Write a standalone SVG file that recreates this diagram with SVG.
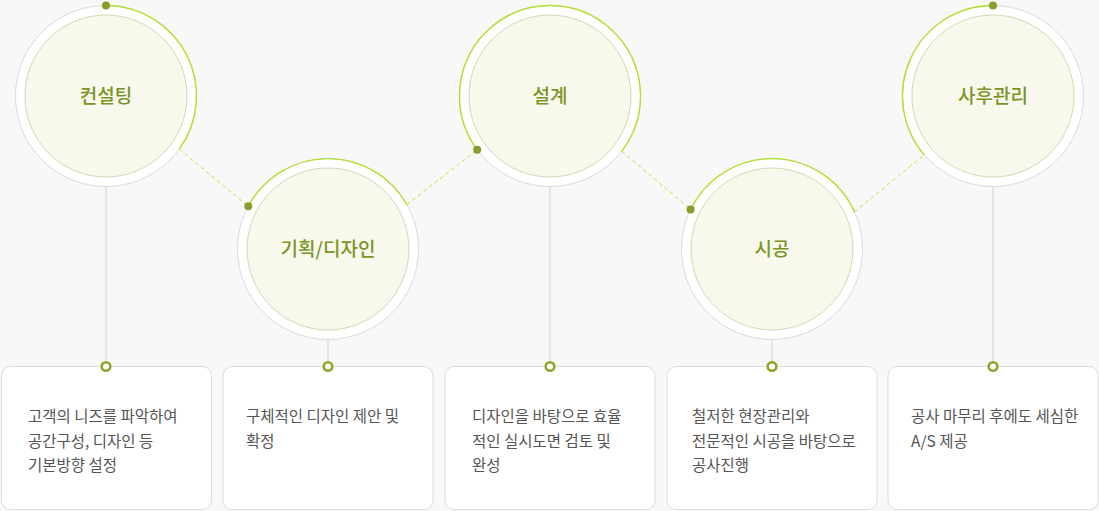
<svg xmlns="http://www.w3.org/2000/svg" width="1099" height="511" viewBox="0 0 1099 511">
  <style>
    .ring { fill: #ffffff; stroke: #dadada; stroke-width: 1; }
    .inner { fill: #f8f9ec; stroke: #d3d8b4; stroke-width: 1; }
    .arc { fill: none; stroke: #b3e02e; stroke-width: 1.4; }
    .dot { fill: #8a9c2e; }
    .dash { stroke: #c2e43c; stroke-width: 1; stroke-dasharray: 4 3; fill: none; }
    .vline { stroke: #d2d2d2; stroke-width: 1; fill: none; }
    .box { fill: #ffffff; stroke: #dcdcdc; stroke-width: 1; }
    .mark { fill: #ffffff; stroke: #8fa52c; stroke-width: 2.6; }
    .title { font-family: "Noto Sans CJK KR", "Noto Sans", sans-serif; font-size: 19px; font-weight: 500; fill: #7b9428; text-anchor: middle; }
    .desc { font-family: "Noto Sans CJK KR", "Noto Sans", sans-serif; font-size: 15.5px; fill: #555555; }
  </style>
  <rect x="0" y="0" width="1099" height="511" fill="#f8f8f8"/>

  <g id="connectors">
    <line class="dash" x1="179.2" y1="149.2" x2="248.3" y2="206.2"/>
    <line class="dash" x1="406.8" y1="204.6" x2="477.2" y2="149.8"/>
    <line class="dash" x1="621.8" y1="151.1" x2="690.6" y2="209.5"/>
    <line class="dash" x1="854.5" y1="211.9" x2="924.2" y2="154.8"/>
    <line class="vline" x1="106" y1="186.5" x2="106" y2="362"/>
    <line class="vline" x1="328" y1="339.5" x2="328" y2="362"/>
    <line class="vline" x1="550" y1="186.5" x2="550" y2="362"/>
    <line class="vline" x1="772" y1="339.5" x2="772" y2="362"/>
    <line class="vline" x1="993" y1="186.5" x2="993" y2="362"/>
  </g>

  <g id="node-consulting">
    <circle class="ring" cx="106" cy="96" r="90.5"/>
    <circle class="inner" cx="106" cy="96" r="81"/>
    <path class="arc" d="M106 5.5 A90.5 90.5 0 0 1 179.2 149.2"/>
    <circle class="dot" cx="106" cy="5.5" r="4"/>
    <text class="title" x="106" y="102.5">컨설팅</text>
  </g>

  <g id="node-planning">
    <circle class="ring" cx="328" cy="249" r="90.5"/>
    <circle class="inner" cx="328" cy="249" r="81"/>
    <path class="arc" d="M248.3 206.2 A90.5 90.5 0 0 1 406.8 204.6"/>
    <circle class="dot" cx="248.3" cy="206.2" r="4"/>
    <text class="title" x="328" y="255.5">기획/디자인</text>
  </g>

  <g id="node-design">
    <circle class="ring" cx="550" cy="96" r="90.5"/>
    <circle class="inner" cx="550" cy="96" r="81"/>
    <path class="arc" d="M477.2 149.8 A90.5 90.5 0 1 1 621.8 151.1"/>
    <circle class="dot" cx="477.2" cy="149.8" r="4"/>
    <text class="title" x="550" y="102.5">설계</text>
  </g>

  <g id="node-construction">
    <circle class="ring" cx="772" cy="249" r="90.5"/>
    <circle class="inner" cx="772" cy="249" r="81"/>
    <path class="arc" d="M690.6 209.5 A90.5 90.5 0 0 1 854.5 211.9"/>
    <circle class="dot" cx="690.6" cy="209.5" r="4"/>
    <text class="title" x="772" y="255.5">시공</text>
  </g>

  <g id="node-aftercare">
    <circle class="ring" cx="993" cy="96" r="90.5"/>
    <circle class="inner" cx="993" cy="96" r="81"/>
    <path class="arc" d="M924.2 154.8 A90.5 90.5 0 0 1 993 5.5"/>
    <circle class="dot" cx="993" cy="5.5" r="4"/>
    <text class="title" x="993" y="102.5">사후관리</text>
  </g>

  <g id="box-consulting">
    <rect class="box" x="1.5" y="366.5" width="210" height="143" rx="9"/>
    <circle class="mark" cx="106" cy="366.5" r="4.3"/>
    <text class="desc" x="28" y="422">고객의 니즈를 파악하여</text>
    <text class="desc" x="28" y="446.5">공간구성, 디자인 등</text>
    <text class="desc" x="28" y="471">기본방향 설정</text>
  </g>

  <g id="box-planning">
    <rect class="box" x="223" y="366.5" width="210" height="143" rx="9"/>
    <circle class="mark" cx="328" cy="366.5" r="4.3"/>
    <text class="desc" x="246" y="422">구체적인 디자인 제안 및</text>
    <text class="desc" x="246" y="446.5">확정</text>
  </g>

  <g id="box-design">
    <rect class="box" x="445" y="366.5" width="210" height="143" rx="9"/>
    <circle class="mark" cx="550" cy="366.5" r="4.3"/>
    <text class="desc" x="472" y="422">디자인을 바탕으로 효율</text>
    <text class="desc" x="472" y="446.5">적인 실시도면 검토 및</text>
    <text class="desc" x="472" y="471">완성</text>
  </g>

  <g id="box-construction">
    <rect class="box" x="667" y="366.5" width="210" height="143" rx="9"/>
    <circle class="mark" cx="772" cy="366.5" r="4.3"/>
    <text class="desc" x="692" y="422">철저한 현장관리와</text>
    <text class="desc" x="692" y="446.5">전문적인 시공을 바탕으로</text>
    <text class="desc" x="692" y="471">공사진행</text>
  </g>

  <g id="box-aftercare">
    <rect class="box" x="888" y="366.5" width="210" height="143" rx="9"/>
    <circle class="mark" cx="993" cy="366.5" r="4.3"/>
    <text class="desc" x="911" y="422">공사 마무리 후에도 세심한</text>
    <text class="desc" x="911" y="446.5">A/S 제공</text>
  </g>
</svg>
